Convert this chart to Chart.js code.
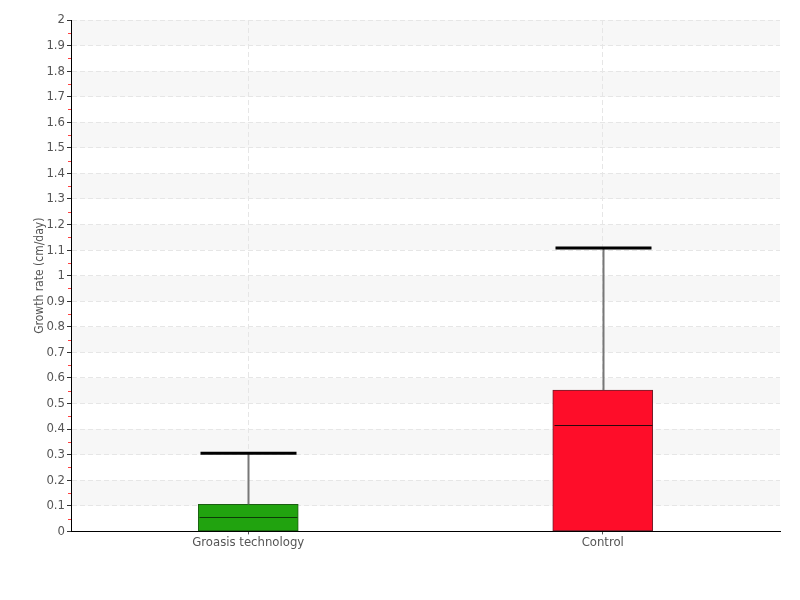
<!DOCTYPE html>
<html>
<head>
<meta charset="utf-8">
<script src="https://cdn.jsdelivr.net/npm/chart.js@4.4.0/dist/chart.umd.min.js"></script>
<style>
  body { margin: 0; background: #fff; }
  #wrap { width: 800px; height: 600px; }
</style>
</head>
<body>
<div id="wrap"><canvas id="growthChart"></canvas></div>
<script>
// data
const groups = ['Groasis technology', 'Control'];
const boxLow = [0, 0];
const boxHigh = [0.106, 0.553];
const medians = [0.055, 0.416];
const whiskerTop = [0.306, 1.108];
const fillColors = ['#21a30f', '#fe0d29'];
const edgeColors = ['#1b5e12', '#6b1f2b'];

const yTicksMin = 0;
const yTicksMax = 2;
const yStep = 0.1;

const FONT = '"DejaVu Sans Condensed", "Liberation Sans Narrow", sans-serif';

// shaded bands + red minor ticks, drawn with the y scale
const bandsPlugin = {
    id: 'bands',
    beforeDraw(chart) {
        const { ctx, chartArea, scales } = chart;
        const y = scales.y;
        ctx.save();
        ctx.fillStyle = '#f7f7f7';
        for (let v = 0.1; v < yTicksMax - 0.01; v += 0.2) {
            const top = y.getPixelForValue(v + yStep);
            const bot = y.getPixelForValue(v);
            ctx.fillRect(chartArea.left, top, chartArea.right - chartArea.left, bot - top);
        }
        ctx.restore();
    },
    afterDraw(chart) {
        const { ctx, chartArea, scales } = chart;
        const y = scales.y;
        ctx.save();
        ctx.strokeStyle = '#ff4040';
        ctx.lineWidth = 1;
        for (let v = 0.05; v < yTicksMax; v += yStep) {
            const py = Math.round(y.getPixelForValue(v)) + 0.5;
            ctx.beginPath();
            ctx.moveTo(chartArea.left - 3, py);
            ctx.lineTo(chartArea.left, py);
            ctx.stroke();
        }
        ctx.restore();
    }
};

// whiskers and medians
const boxPlugin = {
    id: 'boxExtras',
    afterDatasetsDraw(chart) {
        const { ctx, scales } = chart;
        const meta = chart.getDatasetMeta(0);
        ctx.save();
        meta.data.forEach((bar, i) => {
            const cx = Math.round(bar.x) + 0.5;
            const half = bar.width / 2;
            const yTop = scales.y.getPixelForValue(whiskerTop[i]);
            const yBox = scales.y.getPixelForValue(boxHigh[i]);
            const yMed = Math.round(scales.y.getPixelForValue(medians[i])) + 0.5;

            ctx.strokeStyle = '#777';
            ctx.lineWidth = 2;
            ctx.beginPath();
            ctx.moveTo(cx, yBox);
            ctx.lineTo(cx, yTop);
            ctx.stroke();

            ctx.strokeStyle = '#000';
            ctx.lineWidth = 3;
            ctx.beginPath();
            ctx.moveTo(cx - half + 2, yTop);
            ctx.lineTo(cx + half - 2, yTop);
            ctx.stroke();

            ctx.strokeStyle = i === 0 ? '#0c3a08' : '#2a0a0e';
            ctx.lineWidth = 1;
            ctx.beginPath();
            ctx.moveTo(cx - half + 1, yMed);
            ctx.lineTo(cx + half - 1, yMed);
            ctx.stroke();
        });
        ctx.restore();
    }
};

const ctx = document.getElementById('growthChart').getContext('2d');
new Chart(ctx, {
    type: 'bar',
    data: {
        labels: groups,
        datasets: [{
            data: groups.map((g, i) => [boxLow[i], boxHigh[i]]),
            backgroundColor: fillColors,
            borderColor: edgeColors,
            borderWidth: 1,
            borderSkipped: false,
            barThickness: 100
        }]
    },
    options: {
        responsive: true,
        maintainAspectRatio: false,
        animation: false,
        layout: { padding: { top: 20, right: 20, bottom: 50, left: 0 } },
        plugins: {
            legend: { display: false },
            tooltip: { enabled: false }
        },
        scales: {
            x: {
                grid: {
                    offset: false,
                    color: '#e6e6e6',
                    tickColor: '#555',
                    tickLength: 3,
                    tickBorderDash: []
                },
                border: { color: '#000', width: 1, dash: [5, 3] },
                ticks: {
                    color: '#555',
                    padding: 0,
                    font: { family: FONT, size: 13 }
                }
            },
            y: {
                min: yTicksMin,
                max: yTicksMax,
                afterFit(scale) { scale.width = 71; },
                grid: {
                    color: '#e6e6e6',
                    tickColor: '#333',
                    tickLength: 4,
                    tickBorderDash: []
                },
                border: { color: '#000', width: 1, dash: [5, 3] },
                ticks: {
                    stepSize: yStep,
                    color: '#555',
                    padding: 2,
                    font: { family: FONT, size: 13 },
                    callback: v => +v.toFixed(1)
                },
                title: {
                    display: true,
                    text: 'Growth rate (cm/day)',
                    color: '#555',
                    font: { family: FONT, size: 12 },
                    padding: { top: 33, bottom: 0 }
                }
            }
        }
    },
    plugins: [bandsPlugin, boxPlugin]
});
</script>
</body>
</html>
